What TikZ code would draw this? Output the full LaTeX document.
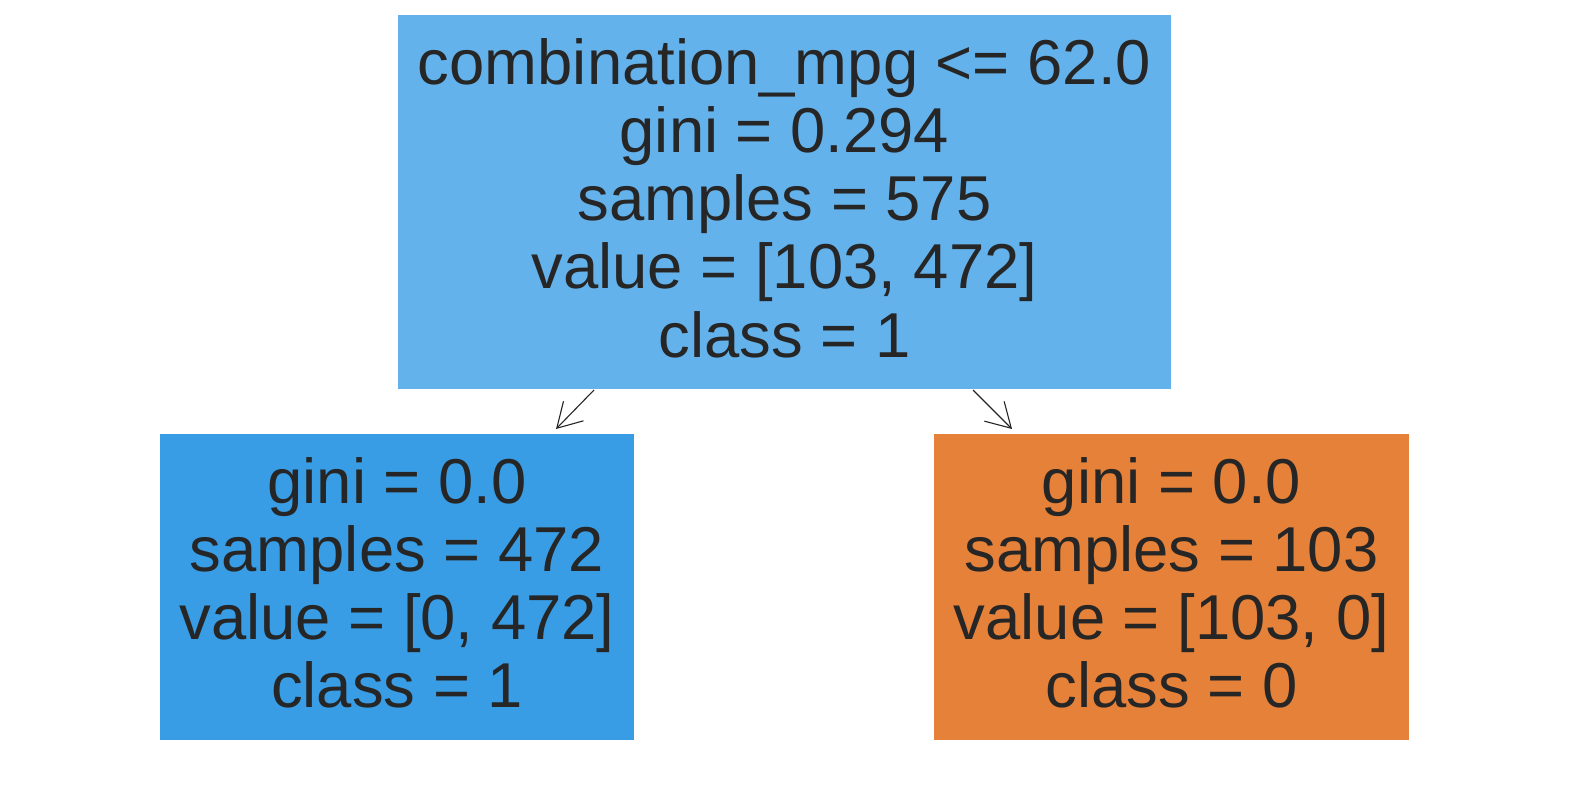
\documentclass[tikz,border=0pt]{standalone}
\usepackage{fontspec}
\setmainfont{Liberation Sans}
\usetikzlibrary{arrows.meta}
\definecolor{rootc}{HTML}{64B2EB}
\definecolor{leftc}{HTML}{399DE5}
\definecolor{rightc}{HTML}{E58139}
\definecolor{txt}{HTML}{262626}
\begin{document}
\begin{tikzpicture}[x=1pt,y=-1pt,
  box/.style={draw=none,inner sep=0pt},
  lbl/.style={text=txt,align=center,font=\fontsize{63.4}{68.2}\selectfont,inner sep=0pt},
  edge/.style={draw=txt,line width=1.1pt,-{Straight Barb[length=24pt,width=28pt,line width=1.1pt]}}]
\useasboundingbox (0,0) rectangle (1570,790);
\fill[rootc] (398,15) rectangle (1171,389);
\fill[leftc] (160,434) rectangle (634,740);
\fill[rightc] (934,434) rectangle (1409,740);
\node[lbl] (root) at (784.5,198) {combination\_mpg <= 62.0\\gini = 0.294\\samples = 575\\value = [103, 472]\\class = 1};
\node[lbl] (left) at (397,583) {gini = 0.0\\samples = 472\\value = [0, 472]\\class = 1};
\node[lbl] (right) at (1171.5,583) {gini = 0.0\\samples = 103\\value = [103, 0]\\class = 0};
\coordinate (rl) at (594,390);
\coordinate (ll) at (556,429);
\coordinate (rr) at (973,390);
\coordinate (lr) at (1012,429);
\draw[edge] (rl) -- (ll);
\draw[edge] (rr) -- (lr);
\end{tikzpicture}
\end{document}
